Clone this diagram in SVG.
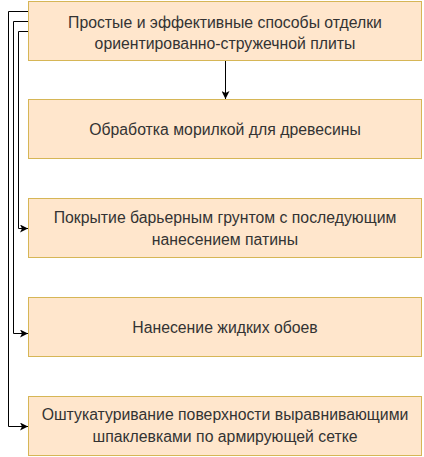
<svg xmlns="http://www.w3.org/2000/svg" width="424" height="457" viewBox="0 0 424 457">
<defs>
<style>
.box{fill:#ffe6cc;stroke:#d6b656;stroke-width:1}
.t{font-family:"Liberation Sans",Arial,sans-serif;font-size:15.8px;fill:#333333;text-anchor:middle}
.c{fill:none;stroke:#000000;stroke-width:1}
</style>
<marker id="ah" viewBox="0 0 10 10" refX="10" refY="5" markerWidth="8" markerHeight="8" orient="auto" markerUnits="userSpaceOnUse">
<path d="M0,0 L10,5 L0,10 L2.5,5 Z" fill="#000000"/>
</marker>
</defs>
<rect width="424" height="457" fill="#ffffff"/>
<g id="n1"><rect class="box" x="28.5" y="1.5" width="393" height="59"/>
<text class="t" x="225" y="28">Простые и эффективные способы отделки</text>
<text class="t" x="225" y="49">ориентированно-стружечной плиты</text></g>
<g id="n2"><rect class="box" x="28.5" y="99.5" width="393" height="59"/>
<text class="t" x="225" y="135">Обработка морилкой для древесины</text></g>
<g id="n3"><rect class="box" x="28.5" y="198.5" width="393" height="59"/>
<text class="t" x="225" y="223">Покрытие барьерным грунтом с последующим</text>
<text class="t" x="225" y="245">нанесением патины</text></g>
<g id="n4"><rect class="box" x="28.5" y="297.5" width="393" height="59"/>
<text class="t" x="225" y="333">Нанесение жидких обоев</text></g>
<g id="n5"><rect class="box" x="28.5" y="396.5" width="393" height="59"/>
<text class="t" x="225" y="420">Оштукатуривание поверхности выравнивающими</text>
<text class="t" x="225" y="442">шпаклевками по армирующей сетке</text></g>
<g id="connectors">
<path class="c" d="M225.5,61 V99" marker-end="url(#ah)"/>
<path class="c" d="M28,31.5 H18.5 V228.5 H28" marker-end="url(#ah)"/>
<path class="c" d="M28,21.5 H13.5 V333.5 H28" marker-end="url(#ah)"/>
<path class="c" d="M28,11.5 H8.5 V426.5 H28" marker-end="url(#ah)"/>
</g>
</svg>
